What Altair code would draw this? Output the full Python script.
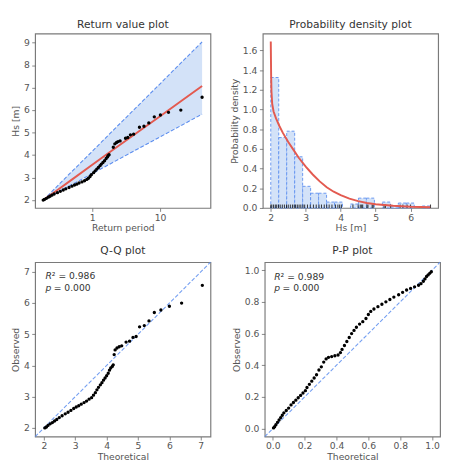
import altair as alt
import pandas as pd

# ---------------- data ----------------
# sorted observations (representative sample), return periods, Q-Q theoretical quantiles
obs = [2.00, 2.03, 2.08, 2.13, 2.17, 2.22, 2.27, 2.33, 2.39, 2.45,
       2.50, 2.56, 2.62, 2.67, 2.71, 2.76, 2.81, 2.86, 2.92, 2.97,
       3.05, 3.13, 3.22, 3.30, 3.38, 3.45, 3.53, 3.60, 3.67, 3.75,
       3.85, 3.92, 3.97, 4.02, 4.35, 4.50, 4.56, 4.60, 4.63, 4.75,
       4.78, 4.90, 4.93, 5.24, 5.28, 5.43, 5.70, 5.78, 5.90, 6.00, 6.57]
ret_period = [0.189, 0.197, 0.211, 0.225, 0.238, 0.254, 0.274, 0.306, 0.338, 0.373,
              0.407, 0.454, 0.501, 0.547, 0.591, 0.638, 0.704, 0.769, 0.830, 0.877,
              0.926, 0.968, 1.045, 1.104, 1.166, 1.231, 1.301, 1.359, 1.436, 1.517,
              1.602, 1.674, 1.711, 1.769, 2.04, 2.15, 2.28, 2.40, 2.57, 3.09,
              3.34, 3.65, 4.07, 4.96, 5.78, 6.81, 8.21, 10.1, 13.3, 20.2, 41.6]
qq_theoretical = [2.03, 2.08, 2.13, 2.20, 2.27, 2.34, 2.41, 2.49, 2.58, 2.68,
                  2.77, 2.86, 2.95, 3.03, 3.11, 3.19, 3.28, 3.36, 3.44, 3.52,
                  3.58, 3.64, 3.69, 3.74, 3.80, 3.85, 3.90, 3.95, 4.00, 4.05,
                  4.09, 4.13, 4.18, 4.21, 4.24, 4.27, 4.33, 4.40, 4.48, 4.62,
                  4.73, 4.84, 4.94, 5.05, 5.20, 5.35, 5.52, 5.73, 6.00, 6.39, 7.05]

# fitted return value curve and confidence band
fit_T = [0.189, 0.3, 0.5, 1.0, 2.0, 5.0, 10.0, 20.0, 41.6]
fit_value = [2.00, 2.43, 2.91, 3.57, 4.23, 5.08, 5.73, 6.38, 7.07]
band_low = [2.00, 2.33, 2.69, 3.18, 3.67, 4.32, 4.81, 5.30, 5.82]
band_high = [2.00, 2.60, 3.27, 4.17, 5.08, 6.27, 7.17, 8.08, 9.03]

# histogram (20 bins) and fitted pdf
bin_left = [2.000, 2.228, 2.456, 2.684, 2.912, 3.140, 3.368, 3.596, 3.824, 4.052,
            4.280, 4.508, 4.736, 4.964, 5.192, 5.420, 5.648, 5.876, 6.104, 6.332]
bin_width = 0.228
density = [1.325, 0.715, 0.78, 0.52, 0.22, 0.15, 0.15, 0.06, 0.06, 0.0,
           0.04, 0.10, 0.10, 0.0, 0.06, 0.02, 0.05, 0.05, 0.0, 0.02]
pdf_x = [2.0, 2.01, 2.02, 2.04, 2.08, 2.15, 2.25, 2.35, 2.5, 2.65, 2.8, 3.0,
         3.2, 3.4, 3.6, 3.8, 4.0, 4.25, 4.5, 4.75, 5.0, 5.5, 6.0, 6.56]
pdf_y = [1.69, 1.35, 1.18, 1.06, 0.98, 0.91, 0.83, 0.76, 0.67, 0.59, 0.51, 0.42,
         0.34, 0.27, 0.21, 0.165, 0.13, 0.095, 0.07, 0.05, 0.038, 0.022, 0.013, 0.008]
rug_height = 0.035

# P-P plot
pp_theoretical = [0.005, 0.012, 0.02, 0.03, 0.04, 0.05, 0.06, 0.07, 0.085, 0.10,
                  0.115, 0.13, 0.145, 0.16, 0.175, 0.19, 0.205, 0.215, 0.23, 0.245,
                  0.26, 0.275, 0.29, 0.305, 0.32, 0.335, 0.35, 0.37, 0.39, 0.41,
                  0.425, 0.435, 0.45, 0.465, 0.48, 0.495, 0.51, 0.525, 0.545, 0.565,
                  0.585, 0.60, 0.615, 0.635, 0.66, 0.685, 0.71, 0.735, 0.76, 0.79,
                  0.815, 0.84, 0.865, 0.89, 0.915, 0.93, 0.945, 0.955, 0.965, 0.975,
                  0.985, 0.995]
pp_observed = [0.005, 0.012, 0.025, 0.04, 0.055, 0.07, 0.085, 0.10, 0.115, 0.13,
               0.15, 0.165, 0.18, 0.195, 0.21, 0.225, 0.24, 0.26, 0.28, 0.30,
               0.32, 0.34, 0.37, 0.39, 0.42, 0.44, 0.45, 0.455, 0.46, 0.465,
               0.48, 0.50, 0.525, 0.55, 0.575, 0.60, 0.62, 0.64, 0.66, 0.675,
               0.695, 0.72, 0.74, 0.755, 0.77, 0.785, 0.80, 0.815, 0.83, 0.845,
               0.86, 0.875, 0.885, 0.895, 0.905, 0.915, 0.93, 0.945, 0.96, 0.97,
               0.98, 0.99]

qq_range = [1.72, 7.31]
pp_range = [-0.05, 1.05]
qq_stats = ["0.986", "0.000"]
pp_stats = ["0.989", "0.000"]

# ---------------- styles ----------------
RED = "#e35a50"
BLUE = "#5b8def"
FILL = "#d3e2f8"
W, H = 181, 180
FONT = "DejaVu Sans"
DOT = 12
TXT = 9.5


def X(field, scale, title, **ax):
    return alt.X(field, type="quantitative", scale=scale, title=title, axis=alt.Axis(**ax))


def Y(field, scale, title, **ax):
    return alt.Y(field, type="quantitative", scale=scale, title=title, axis=alt.Axis(**ax))


# ---------------- panel 1: return value plot ----------------
rv = pd.DataFrame({"T": ret_period, "Hs": obs})
fit = pd.DataFrame({"T": fit_T, "fit": fit_value, "lo": band_low, "hi": band_high})
xs1 = alt.Scale(type="log", domain=[0.1436, 55.3], nice=False)
ys1 = alt.Scale(domain=[1.65, 9.4], nice=False, zero=False)
xa1 = dict(values=[1, 10], format="d")
ya1 = dict(values=list(range(2, 10)), format="d")

p1 = alt.layer(
    alt.Chart(fit).mark_area(color=FILL, opacity=1).encode(
        x=X("T", xs1, "Return period", **xa1), y=Y("lo", ys1, "Hs [m]", **ya1), y2="hi"),
    alt.Chart(fit).mark_line(color=BLUE, strokeDash=[4, 2], strokeWidth=1.1).encode(
        x=X("T", xs1, "Return period", **xa1), y=Y("hi", ys1, "Hs [m]", **ya1)),
    alt.Chart(fit).mark_line(color=BLUE, strokeDash=[4, 2], strokeWidth=1.1).encode(
        x=X("T", xs1, "Return period", **xa1), y=Y("lo", ys1, "Hs [m]", **ya1)),
    alt.Chart(fit).mark_line(color=RED, strokeWidth=2).encode(
        x=X("T", xs1, "Return period", **xa1), y=Y("fit", ys1, "Hs [m]", **ya1)),
    alt.Chart(rv).mark_circle(size=DOT, color="black", opacity=1).encode(
        x=X("T", xs1, "Return period", **xa1), y=Y("Hs", ys1, "Hs [m]", **ya1)),
).properties(width=W, height=H, title="Return value plot")

# ---------------- panel 2: probability density plot ----------------
hist = pd.DataFrame({"left": bin_left, "dens": density})
hist["right"] = hist["left"] + bin_width
hist["base"] = 0.0
hist = hist[hist["dens"] > 0]
pdf = pd.DataFrame({"x": pdf_x, "y": pdf_y})
rug = pd.DataFrame({"x": obs})
rug["y0"] = 0.0
rug["y1"] = rug_height
xs2 = alt.Scale(domain=[1.772, 6.788], nice=False, zero=False)
ys2 = alt.Scale(domain=[0, 1.771], nice=False)
xa2 = dict(values=[2, 3, 4, 5, 6], format="d")
ya2 = dict(values=[0, 0.2, 0.4, 0.6, 0.8, 1.0, 1.2, 1.4, 1.6], format=".1f", labelOverlap=False)

p2 = alt.layer(
    alt.Chart(hist).mark_rect(fill=FILL, stroke=BLUE, strokeDash=[3, 2], strokeWidth=0.9).encode(
        x=X("left", xs2, "Hs [m]", **xa2), x2="right",
        y=Y("dens", ys2, "Probability density", **ya2), y2="base"),
    alt.Chart(rug).mark_rule(color="black", strokeWidth=0.8).encode(
        x=X("x", xs2, "Hs [m]", **xa2),
        y=Y("y0", ys2, "Probability density", **ya2), y2="y1"),
    alt.Chart(pdf).mark_line(color=RED, strokeWidth=2).encode(
        x=X("x", xs2, "Hs [m]", **xa2), y=Y("y", ys2, "Probability density", **ya2)),
).properties(width=W, height=H, title="Probability density plot")

# ---------------- panel 3: Q-Q plot ----------------
qq = pd.DataFrame({"t": qq_theoretical, "o": obs})
diag_qq = pd.DataFrame({"t": qq_range, "o": qq_range})
xs3 = alt.Scale(domain=qq_range, nice=False, zero=False)
ys3 = alt.Scale(domain=qq_range, nice=False, zero=False)
xa3 = dict(values=[2, 3, 4, 5, 6, 7], format="d")
ya3 = dict(values=[2, 3, 4, 5, 6, 7], format="d")
qq_r = pd.DataFrame({"t": [2.05], "o": [6.85], "s": ["\u00b2 = " + qq_stats[0]]})
qq_p = pd.DataFrame({"t": [2.05], "o": [6.49], "s": ["= " + qq_stats[1]]})


def stat_text(df_r, df_p, xs, ys, xt, yt, xa, ya):
    enc = dict(x=X("t", xs, xt, **xa), y=Y("o", ys, yt, **ya))
    return [
        alt.Chart(df_r).mark_text(text="R", fontStyle="italic", font=FONT, fontSize=TXT,
                                  align="left", baseline="middle", color="#333").encode(**enc),
        alt.Chart(df_r).mark_text(font=FONT, fontSize=TXT, align="left", baseline="middle",
                                  dx=6.5, color="#333").encode(text="s:N", **enc),
        alt.Chart(df_p).mark_text(text="p", fontStyle="italic", font=FONT, fontSize=TXT,
                                  align="left", baseline="middle", color="#333").encode(**enc),
        alt.Chart(df_p).mark_text(font=FONT, fontSize=TXT, align="left", baseline="middle",
                                  dx=8.5, color="#333").encode(text="s:N", **enc),
    ]


p3 = alt.layer(
    alt.Chart(diag_qq).mark_line(color=BLUE, strokeDash=[4, 2], strokeWidth=1.1, opacity=0.85).encode(
        x=X("t", xs3, "Theoretical", **xa3), y=Y("o", ys3, "Observed", **ya3)),
    alt.Chart(qq).mark_circle(size=DOT, color="black", opacity=1).encode(
        x=X("t", xs3, "Theoretical", **xa3), y=Y("o", ys3, "Observed", **ya3)),
    *stat_text(qq_r, qq_p, xs3, ys3, "Theoretical", "Observed", xa3, ya3),
).properties(width=W, height=H, title="Q-Q plot")

# ---------------- panel 4: P-P plot ----------------
pp = pd.DataFrame({"t": pp_theoretical, "o": pp_observed})
diag_pp = pd.DataFrame({"t": pp_range, "o": pp_range})
xs4 = alt.Scale(domain=pp_range, nice=False, zero=False)
ys4 = alt.Scale(domain=pp_range, nice=False, zero=False)
xa4 = dict(values=[0, 0.2, 0.4, 0.6, 0.8, 1.0], format=".1f")
ya4 = dict(values=[0, 0.2, 0.4, 0.6, 0.8, 1.0], format=".1f")
pp_r = pd.DataFrame({"t": [0.01], "o": [0.959], "s": ["\u00b2 = " + pp_stats[0]]})
pp_p = pd.DataFrame({"t": [0.01], "o": [0.888], "s": ["= " + pp_stats[1]]})

p4 = alt.layer(
    alt.Chart(diag_pp).mark_line(color=BLUE, strokeDash=[4, 2], strokeWidth=1.1, opacity=0.85).encode(
        x=X("t", xs4, "Theoretical", **xa4), y=Y("o", ys4, "Observed", **ya4)),
    alt.Chart(pp).mark_circle(size=DOT, color="black", opacity=1).encode(
        x=X("t", xs4, "Theoretical", **xa4), y=Y("o", ys4, "Observed", **ya4)),
    *stat_text(pp_r, pp_p, xs4, ys4, "Theoretical", "Observed", xa4, ya4),
).properties(width=W, height=H, title="P-P plot")

row1 = alt.hconcat(p1, p2, spacing=18)
row2 = alt.hconcat(p3, p4, spacing=18)

chart = (
    alt.vconcat(row1, row2, spacing=12)
    .properties(padding={"left": 2, "top": 3, "right": 0, "bottom": 0})
    .configure_view(stroke="#7a7a7a", strokeWidth=1.2)
    .configure_axis(grid=False, domain=False, tickColor="#666", tickSize=3.5, tickWidth=0.8,
                    labelFont=FONT, labelFontSize=9.5, labelColor="#555",
                    labelFlush=False, labelOverlap=False, titleFont=FONT, titleFontSize=9.5,
                    titleColor="#555", titleFontWeight="normal")
    .configure_axisX(labelPadding=1, titlePadding=1.5)
    .configure_axisY(labelPadding=2.5, titlePadding=3)
    .configure_title(font=FONT, fontSize=11, fontWeight="normal", color="#333",
                     offset=4, anchor="middle")
)

chart.save("out.html", embed_options={"renderer": "svg", "actions": False})
